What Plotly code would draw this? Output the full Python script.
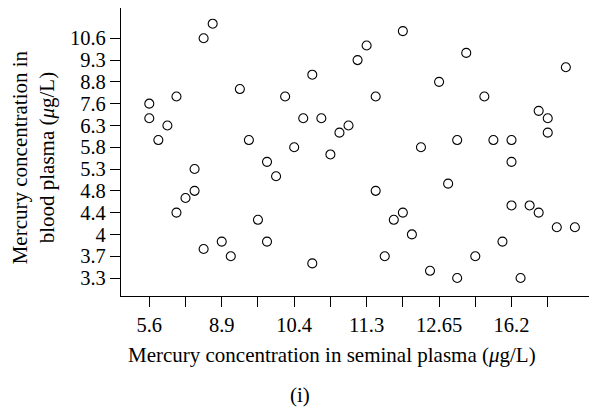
import plotly.graph_objects as go

# x positions are on the rank scale of the seminal plasma axis (tick 1 = 5.6, tick 3 = 8.9, ...)
# y positions are on the rank scale of the blood plasma axis (tick 1 = 3.3 ... tick 12 = 10.6)
seminal_pos = [1.0, 1.0, 1.25, 1.5, 1.75, 1.75, 2.0, 2.25, 2.25, 2.5, 2.5, 2.75,
               3.0, 3.25, 3.5, 3.75, 4.0, 4.25, 4.25, 4.5, 4.75, 5.0, 5.25, 5.5,
               5.5, 5.75, 6.0, 6.25, 6.5, 6.75, 7.0, 7.25, 7.25, 7.5, 7.75, 8.0,
               8.0, 8.25, 8.5, 8.75, 9.0, 9.25, 9.5, 9.5, 9.75, 10.0, 10.25, 10.5,
               10.75, 11.0, 11.0, 11.0, 11.25, 11.5, 11.75, 11.75, 12.0, 12.0, 12.25,
               12.5, 12.75]
blood_pos = [9.0, 8.33, 7.33, 8.0, 9.33, 4.0, 4.67, 6.0, 5.0, 12.0, 2.33, 12.67,
             2.67, 2.0, 9.67, 7.33, 3.67, 6.33, 2.67, 5.67, 9.33, 7.0, 8.33, 10.33,
             1.67, 8.33, 6.67, 7.67, 8.0, 11.0, 11.67, 9.33, 5.0, 2.0, 3.67, 12.33,
             4.0, 3.0, 7.0, 1.33, 10.0, 5.33, 7.33, 1.0, 11.33, 2.0, 9.33, 7.33,
             2.67, 7.33, 6.33, 4.33, 1.0, 4.33, 8.67, 4.0, 8.33, 7.67, 3.33,
             10.67, 3.33]

x_tick_labels = ['5.6', '', '8.9', '', '10.4', '', '11.3', '', '12.65', '', '16.2', '']
y_tick_labels = ['3.3', '3.7', '4', '4.4', '4.8', '5.3', '5.8', '6.3', '7.6', '8.8', '9.3', '10.6']

font = dict(family='Liberation Serif, Times New Roman, serif', size=21, color='black')
tick_font = dict(family='Liberation Serif, Times New Roman, serif', size=20.5, color='black')

fig = go.Figure(go.Scatter(
    x=seminal_pos,
    y=blood_pos,
    mode='markers',
    marker=dict(symbol='circle-open', size=9, color='black', line=dict(width=1.1, color='black')),
    showlegend=False,
))

axis_common = dict(
    showgrid=False,
    zeroline=False,
    showline=True,
    linecolor='black',
    linewidth=1.3,
    ticks='outside',
    ticklen=10,
    tickwidth=1.3,
    tickcolor='black',
    tickfont=tick_font,
)

# the page body adds an 8px margin, so the figure is sized 8px smaller
fig.update_layout(
    width=589,
    height=402,
    margin=dict(t=0, r=0, b=114, l=113),
    plot_bgcolor='white',
    paper_bgcolor='white',
    font=font,
    xaxis=dict(
        axis_common,
        mirror=True,
        range=[0.219, 13.36],
        tickmode='array',
        tickvals=list(range(1, 13)),
        ticktext=x_tick_labels,
    ),
    yaxis=dict(
        axis_common,
        range=[0.174, 13.39],
        tickmode='array',
        tickvals=list(range(1, 13)),
        ticktext=y_tick_labels,
    ),
    annotations=[
        dict(text='Mercury concentration in seminal plasma (<i>μ</i>g/L)',
             xref='paper', yref='paper', x=0.443, y=-0.205,
             showarrow=False, xanchor='center', yanchor='middle'),
        dict(text='Mercury concentration in<br>blood plasma (<i>μ</i>g/L)',
             xref='paper', yref='paper', x=-0.184, y=0.483, textangle=-90,
             showarrow=False, xanchor='center', yanchor='middle'),
        dict(text='(i)',
             xref='paper', yref='paper', x=0.376, y=-0.344,
             showarrow=False, xanchor='center', yanchor='middle'),
    ],
)

fig.write_html("out.html")
